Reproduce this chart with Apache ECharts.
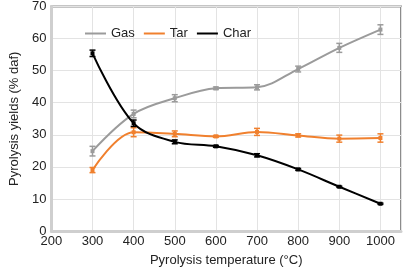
<!DOCTYPE html>
<html>
<head>
<meta charset="utf-8">
<script src="https://cdn.jsdelivr.net/npm/echarts@6/dist/echarts.min.js"></script>
<style>
  html, body { margin: 0; padding: 0; background: #fff; }
  #chart { width: 403px; height: 272px; }
</style>
</head>
<body>
<div id="chart"></div>
<script>
// temperatures (°C)
const temps = [300, 400, 500, 600, 700, 800, 900, 1000];

// yields (% daf)
const gas = [24.9, 36.5, 41.4, 44.5, 44.8, 50.5, 57.1, 62.8];
const tar = [19.0, 30.8, 30.3, 29.5, 30.9, 29.8, 28.8, 29.0];
const char = [55.4, 33.6, 27.8, 26.4, 23.6, 19.2, 13.8, 8.5];

// half-width of the error bars
const gasErr = [1.5, 1.2, 1.1, 0.4, 0.8, 0.9, 1.4, 1.5];
const tarErr = [0.8, 1.4, 0.9, 0.3, 1.1, 0.5, 1.1, 1.3];
const charErr = [1.0, 1.0, 0.6, 0.3, 0.5, 0.3, 0.2, 0.2];

const seriesNames = ['Gas', 'Tar', 'Char'];
const colors = ['#9b9b9b', '#f0802e', '#000000'];

const font = 'Liberation Sans, Arial, sans-serif';
const Echart = echarts.init(document.getElementById('chart'));

/** line series, one per product */
const lineSeries = (name, vals, color) => ({
    name: name,
    type: 'line',
    smooth: 0.35,
    data: temps.map((t, i) => [t, vals[i]]),
    symbol: 'rect',
    symbolSize: 4,
    itemStyle: { color: color },
    lineStyle: { color: color, width: 2 },
    z: 3,
});

/** error bars drawn with a custom series */
const errSeries = (vals, errs, color) => ({
    type: 'custom',
    data: temps.map((t, i) => [t, vals[i] - errs[i], vals[i] + errs[i]]),
    renderItem: (params, api) => {
        const lo = api.coord([api.value(0), api.value(1)]);
        const hi = api.coord([api.value(0), api.value(2)]);
        const w = 3;
        const style = { stroke: color, lineWidth: 1.5 };
        return {
            type: 'group',
            children: [
                { type: 'line', shape: { x1: lo[0], y1: lo[1], x2: hi[0], y2: hi[1] }, style: style },
                { type: 'line', shape: { x1: lo[0] - w, y1: lo[1], x2: lo[0] + w, y2: lo[1] }, style: style },
                { type: 'line', shape: { x1: hi[0] - w, y1: hi[1], x2: hi[0] + w, y2: hi[1] }, style: style },
            ]
        };
    },
    z: 4,
    silent: true,
});

const options = {
    animation: false,
    textStyle: { fontFamily: font },
    grid: {
        left: 43, right: 2, top: 5, bottom: 40,
        show: true,
        borderColor: '#8c8c8c',
        borderWidth: 2,
    },
    legend: {
        data: seriesNames,
        left: 80,
        top: 22,
        icon: 'rect',
        itemWidth: 21,
        itemHeight: 2,
        itemGap: 9,
        textStyle: { fontFamily: font, fontSize: 13, color: '#222' },
    },
    xAxis: {
        type: 'value',
        min: 200,
        max: 1050,
        interval: 100,
        name: 'Pyrolysis temperature (°C)',
        nameLocation: 'middle',
        nameGap: 23,
        nameTextStyle: { fontFamily: font, fontSize: 13, color: '#222' },
        axisLine: { show: true, lineStyle: { color: '#cfcfcf', width: 3 } },
        axisTick: { show: false },
        axisLabel: {
            fontFamily: font, fontSize: 13, color: '#222', margin: 4,
            showMaxLabel: false,
            formatter: (v) => String(v),
        },
        splitLine: { show: true, lineStyle: { color: '#e3e3e3', width: 1 } },
    },
    yAxis: {
        type: 'value',
        min: 0,
        max: 70,
        interval: 10,
        name: 'Pyrolysis yields (% daf)',
        nameLocation: 'middle',
        nameGap: 26,
        nameTextStyle: { fontFamily: font, fontSize: 13, color: '#222' },
        axisLine: { show: true, lineStyle: { color: '#cfcfcf', width: 3 } },
        axisTick: { show: false },
        axisLabel: { fontFamily: font, fontSize: 13, color: '#222', margin: 5 },
        splitLine: { show: true, lineStyle: { color: '#e3e3e3', width: 1 } },
    },
    series: [
        lineSeries('Gas', gas, colors[0]),
        lineSeries('Tar', tar, colors[1]),
        lineSeries('Char', char, colors[2]),
        errSeries(gas, gasErr, colors[0]),
        errSeries(tar, tarErr, colors[1]),
        errSeries(char, charErr, colors[2]),
    ]
};

Echart.setOption(options);
</script>
</body>
</html>
